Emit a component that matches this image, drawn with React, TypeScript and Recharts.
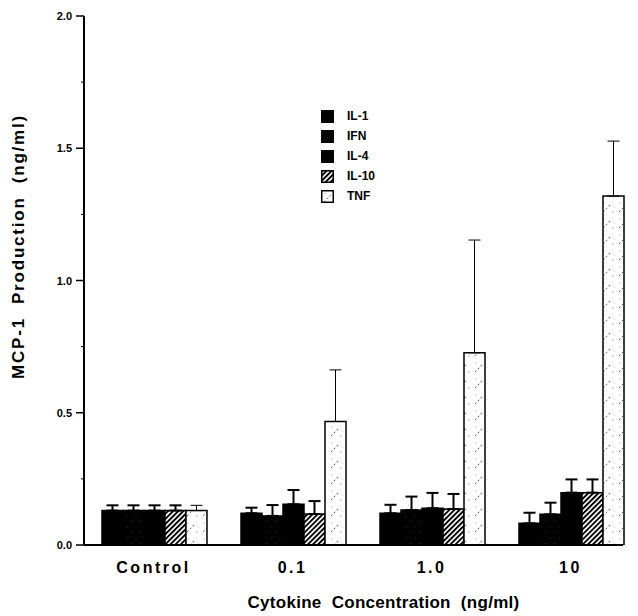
import React from 'react';
import { BarChart, Bar, XAxis, YAxis, ErrorBar, Legend, Label } from 'recharts';

const categories = ['Control', '0.1', '1.0', '10'];
const seriesNames = ['IL-1', 'IFN', 'IL-4', 'IL-10', 'TNF'];

const il1 = [0.13, 0.12, 0.12, 0.082];
const ifn = [0.13, 0.11, 0.132, 0.116];
const il4 = [0.13, 0.154, 0.139, 0.198];
const il10 = [0.13, 0.117, 0.136, 0.198];
const tnf = [0.13, 0.467, 0.727, 1.319];

const il1Err = [0.02, 0.021, 0.032, 0.04];
const ifnErr = [0.02, 0.041, 0.051, 0.044];
const il4Err = [0.02, 0.054, 0.058, 0.05];
const il10Err = [0.02, 0.049, 0.057, 0.05];
const tnfErr = [0.02, 0.195, 0.426, 0.208];

const yTicks = [0, 0.25, 0.5, 0.75, 1, 1.25, 1.5, 1.75, 2];
const yMajor: Record<string, string> = { '0': '0.0', '0.5': '0.5', '1': '1.0', '1.5': '1.5', '2': '2.0' };

const FONT = '"Liberation Sans", Arial, Helvetica, sans-serif';

const seriesValues = [il1, ifn, il4, il10, tnf];
const seriesErrors = [il1Err, ifnErr, il4Err, il10Err, tnfErr];
const seriesKeys = ['il1', 'ifn', 'il4', 'il10', 'tnf'];
const seriesFills = ['#000', 'url(#pIFN)', '#000', 'url(#pIL10)', 'url(#pTNF)'];

const data = categories.map((cat, i) => {
  const row: any = { cat };
  seriesKeys.forEach((k, s) => {
    row[k] = seriesValues[s][i];
    row[k + 'Err'] = [0, seriesErrors[s][i]];
  });
  return row;
});

const XTick = (props: any) => {
  const { x, y, payload } = props;
  return (
    <text x={x} y={y + 22} textAnchor="middle" dominantBaseline="central"
      fontFamily={FONT} fontWeight={700} fontSize={16} letterSpacing={2.5} fill="#000">
      {payload.value}
    </text>
  );
};

const YTick = (props: any) => {
  const { x, y, payload } = props;
  const lab = yMajor[String(payload.value)];
  if (lab) {
    return (
      <g>
        <line x1={x - 8} x2={x} y1={y} y2={y} stroke="#000" strokeWidth={1.5} />
        <text x={x - 12} y={y} textAnchor="end" dominantBaseline="central"
          fontFamily={FONT} fontWeight={700} fontSize={11} fill="#000">{lab}</text>
      </g>
    );
  }
  return <line x1={x - 3} x2={x} y1={y} y2={y} stroke="#000" strokeWidth={1} />;
};

const YTitle = (props: any) => {
  const vb = props.viewBox;
  const cx = vb.x + 10;
  const cy = vb.y + vb.height / 2 - 34;
  return (
    <text x={cx} y={cy} transform={`rotate(-90, ${cx}, ${cy})`} textAnchor="middle" dominantBaseline="central"
      fontFamily={FONT} fontWeight={700} fontSize={17} letterSpacing={1.8} fill="#000" style={{ whiteSpace: 'pre' }}>
      {'MCP-1  Production  (ng/ml)'}
    </text>
  );
};

const XTitle = (props: any) => {
  const vb = props.viewBox;
  const cx = vb.x + vb.width / 2 + 30;
  const cy = vb.y + 57;
  return (
    <text x={cx} y={cy} textAnchor="middle" dominantBaseline="central"
      fontFamily={FONT} fontWeight={700} fontSize={17} letterSpacing={0.3} fill="#000" style={{ whiteSpace: 'pre' }}>
      {'Cytokine  Concentration  (ng/ml)'}
    </text>
  );
};

const LegendContent = () => (
  <div style={{ fontFamily: FONT, fontWeight: 700, fontSize: 12, color: '#000' }}>
    {seriesNames.map((n, i) => (
      <div key={n} style={{ display: 'flex', alignItems: 'center', height: 20 }}>
        <svg width={13} height={13} style={{ display: 'block' }}>
          <rect x={0.75} y={0.75} width={11.5} height={11.5} fill={seriesFills[i]} stroke="#000" strokeWidth={1.5} />
        </svg>
        <span style={{ marginLeft: 13 }}>{n}</span>
      </div>
    ))}
  </div>
);

export default function App() {
  return (
    <div style={{ width: 630, height: 608 }}>
      <BarChart width={630} height={608} data={data}
        margin={{ top: 8, right: 15, bottom: 0, left: 0 }}
        barCategoryGap={18} barGap={0}>
        <defs>
          <pattern id="pIFN" width="9" height="11" patternUnits="userSpaceOnUse">
            <rect width="9" height="11" fill="#000" />
            <circle cx="2" cy="2" r="0.6" fill="#3a3a3a" />
            <circle cx="6.5" cy="7.5" r="0.6" fill="#333" />
          </pattern>
          <pattern id="pIL10" width="3.6" height="3.6" patternUnits="userSpaceOnUse" patternTransform="rotate(45)">
            <rect width="3.6" height="3.6" fill="#fff" />
            <rect width="1.9" height="3.6" fill="#000" />
          </pattern>
          <pattern id="pTNF" width="16" height="16" patternUnits="userSpaceOnUse">
            <rect width="16" height="16" fill="#fff" />
            <line x1="3" y1="12" x2="11" y2="4" stroke="#444" strokeWidth="0.8" strokeDasharray="2 2" />
            <circle cx="13" cy="12" r="0.6" fill="#666" />
            <circle cx="4" cy="3" r="0.5" fill="#777" />
          </pattern>
        </defs>
        <XAxis dataKey="cat" axisLine={{ stroke: '#000', strokeWidth: 2 }} tickLine={false}
          tick={<XTick />} tickSize={0} tickMargin={0} height={71} interval={0}
          padding={{ left: 0, right: -17 }}>
          <Label content={<XTitle />} />
        </XAxis>
        <YAxis domain={[0, 2]} ticks={yTicks} interval={0} width={76}
          axisLine={{ stroke: '#000', strokeWidth: 2 }} tickLine={false} tick={<YTick />}
          tickSize={0} tickMargin={0} allowDataOverflow>
          <Label content={<YTitle />} />
        </YAxis>
        <Legend layout="vertical" align="center" verticalAlign="middle" content={<LegendContent />}
          wrapperStyle={{ position: 'absolute', left: 313, top: 98, width: 80, height: 100 }} />
        {seriesKeys.map((k, s) => (
          <Bar key={k} dataKey={k} name={seriesNames[s]} fill={seriesFills[s]} stroke="#000"
            strokeWidth={1.5} isAnimationActive={false}>
            <ErrorBar dataKey={k + 'Err'} direction="y" width={6} stroke="#000"
              strokeWidth={k === 'tnf' ? 1 : 2} />
          </Bar>
        ))}
      </BarChart>
    </div>
  );
}
